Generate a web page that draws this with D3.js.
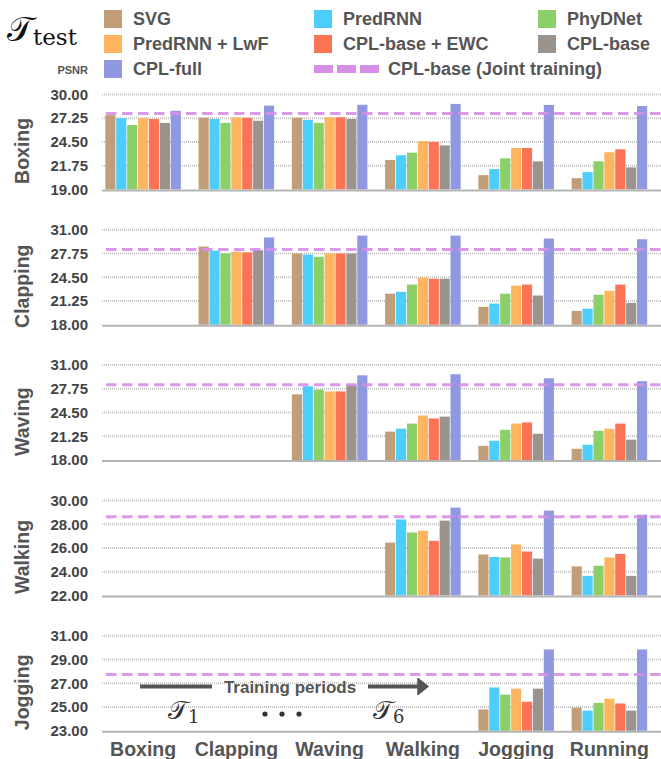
<!DOCTYPE html>
<html>
<head>
<meta charset="utf-8">
<script src="https://cdn.jsdelivr.net/npm/d3@7"></script>
<style>
  body { margin: 0; background: #fff; }
  svg text { font-family: "Liberation Sans", Arial, sans-serif; font-weight: bold; }
</style>
</head>
<body>
<div id="chart"></div>
<script>
// training periods (x groups) and methods (bars)
const periods = ["Boxing", "Clapping", "Waving", "Walking", "Jogging", "Running"];
const methods = ["SVG", "PredRNN", "PhyDNet", "PredRNN + LwF", "CPL-base + EWC", "CPL-base", "CPL-full"];
const colors = ["#c29e78", "#4dcdfc", "#8bcf68", "#fdb55f", "#fd7355", "#9b948e", "#8f98e0"];
const jointColor = "#d88fe8";

// test sets (one panel each)
const testSets = ["Boxing", "Clapping", "Waving", "Walking", "Jogging"];
const yTicks = [
  [19.00, 21.75, 24.50, 27.25, 30.00],
  [18.00, 21.25, 24.50, 27.75, 31.00],
  [18.00, 21.25, 24.50, 27.75, 31.00],
  [22.00, 24.00, 26.00, 28.00, 30.00],
  [23.00, 25.00, 27.00, 29.00, 31.00]
];

// PSNR per method (rows) and training period (cols); null = not yet trained on it
const boxingPSNR = [
  [27.60, 27.30, 27.30, 22.40, 20.65, 20.30],
  [27.25, 27.15, 27.05, 22.95, 21.35, 21.00],
  [26.45, 26.70, 26.70, 23.25, 22.60, 22.25],
  [27.25, 27.35, 27.35, 24.60, 23.80, 23.30],
  [27.15, 27.30, 27.35, 24.50, 23.80, 23.65],
  [26.70, 26.95, 27.15, 24.10, 22.25, 21.55],
  [28.10, 28.70, 28.80, 28.90, 28.78, 28.65]
];
const clappingPSNR = [
  [null, 28.70, 27.75, 22.25, 20.45, 19.90],
  [null, 28.15, 27.60, 22.50, 20.90, 20.20],
  [null, 27.75, 27.30, 23.50, 22.25, 22.10],
  [null, 28.00, 27.75, 24.45, 23.35, 22.65],
  [null, 27.90, 27.75, 24.30, 23.50, 23.50],
  [null, 28.20, 27.75, 24.30, 22.00, 21.00],
  [null, 29.95, 30.20, 30.20, 29.80, 29.70]
];
const wavingPSNR = [
  [null, null, 27.00, 21.90, 19.95, 19.55],
  [null, null, 28.10, 22.30, 20.65, 20.10],
  [null, null, 27.65, 23.00, 22.15, 22.00],
  [null, null, 27.40, 24.10, 23.00, 22.30],
  [null, null, 27.40, 23.70, 23.15, 23.00],
  [null, null, 28.35, 23.95, 21.60, 20.80],
  [null, null, 29.60, 29.75, 29.20, 28.80]
];
const walkingPSNR = [
  [null, null, null, 26.45, 25.45, 24.45],
  [null, null, null, 28.40, 25.25, 23.65],
  [null, null, null, 27.30, 25.20, 24.50],
  [null, null, null, 27.45, 26.30, 25.20],
  [null, null, null, 26.60, 25.70, 25.50],
  [null, null, null, 28.30, 25.10, 23.65],
  [null, null, null, 29.40, 29.15, 28.80]
];
const joggingPSNR = [
  [null, null, null, null, 24.80, 24.95],
  [null, null, null, null, 26.65, 24.70],
  [null, null, null, null, 26.05, 25.35],
  [null, null, null, null, 26.55, 25.70],
  [null, null, null, null, 25.45, 25.30],
  [null, null, null, null, 26.55, 24.70],
  [null, null, null, null, 29.85, 29.85]
];
const panelData = [boxingPSNR, clappingPSNR, wavingPSNR, walkingPSNR, joggingPSNR];
// CPL-base joint training reference
const jointPSNR = [27.78, 28.30, 28.30, 28.63, 27.75];

const W = 661, H = 759;
const gridLeft = 102, gridRight = 661;
const panelTop0 = 94.4, panelStep = 135.35, panelH = 95;

const svg = d3.select("#chart").append("svg")
  .attr("width", W).attr("height", H);

const x0 = d3.scaleBand()
  .domain(periods)
  .range([96, 656.5])
  .paddingInner(0.19)
  .paddingOuter(0.1);

const x1 = d3.scaleBand()
  .domain(methods)
  .range([0, x0.bandwidth()])
  .paddingInner(0.07);

// ---- legend ----
const legend = svg.append("g");
const legendCols = [104, 314, 538];
const legendRows = [19, 44, 69];
const legendItems = [
  { name: "SVG", c: 0, r: 0 }, { name: "PredRNN", c: 1, r: 0 }, { name: "PhyDNet", c: 2, r: 0 },
  { name: "PredRNN + LwF", c: 0, r: 1 }, { name: "CPL-base + EWC", c: 1, r: 1 }, { name: "CPL-base", c: 2, r: 1 },
  { name: "CPL-full", c: 0, r: 2 }
];
legendItems.forEach(d => {
  const i = methods.indexOf(d.name);
  legend.append("rect")
    .attr("x", legendCols[d.c]).attr("y", legendRows[d.r] - 9)
    .attr("width", 18).attr("height", 18)
    .attr("fill", colors[i]);
  legend.append("text")
    .attr("x", legendCols[d.c] + 29).attr("y", legendRows[d.r])
    .attr("dy", "0.36em")
    .attr("font-size", 18).attr("fill", "#555")
    .text(d.name);
});
legend.append("line")
  .attr("x1", 314).attr("x2", 380)
  .attr("y1", legendRows[2]).attr("y2", legendRows[2])
  .attr("stroke", jointColor).attr("stroke-width", 8)
  .attr("stroke-dasharray", "19,4");
legend.append("text")
  .attr("x", 388).attr("y", legendRows[2]).attr("dy", "0.36em")
  .attr("font-size", 18).attr("fill", "#555")
  .text("CPL-base (Joint training)");

// T_test
const tt = svg.append("text").attr("x", 7).attr("y", 41)
  .style("font-family", "'DejaVu Serif', serif").style("font-weight", "normal")
  .attr("fill", "#111");
tt.append("tspan").attr("font-size", 34).text("𝒯");
tt.append("tspan").attr("font-size", 23).attr("dy", 4).text("test");

svg.append("text").attr("x", 88).attr("y", 70).attr("dy", "0.36em")
  .attr("text-anchor", "end").attr("font-size", 11).attr("fill", "#555")
  .text("PSNR");

// ---- panels ----
testSets.forEach((name, p) => {
  const top = panelTop0 + p * panelStep;
  const ticks = yTicks[p];
  const y = d3.scaleLinear()
    .domain([ticks[0], ticks[ticks.length - 1]])
    .range([top + panelH, top]);

  const g = svg.append("g");

  // dotted gridlines
  g.selectAll(".grid").data(ticks.slice(1)).enter().append("line")
    .attr("x1", gridLeft).attr("x2", gridRight)
    .attr("y1", d => y(d)).attr("y2", d => y(d))
    .attr("stroke", "#c4c4c4").attr("stroke-width", 2)
    .attr("stroke-dasharray", "1,1");

  // tick labels
  const axis = g.append("g")
    .attr("transform", `translate(88,0)`)
    .call(d3.axisLeft(y).tickValues(ticks).tickFormat(d3.format(".2f")).tickSize(0).tickPadding(0));
  axis.select(".domain").remove();
  axis.selectAll("text")
    .attr("font-size", 15).attr("fill", "#444")
    .style("font-family", "'Liberation Sans', Arial, sans-serif")
    .style("font-weight", "bold");

  // panel label
  g.append("text")
    .attr("transform", `translate(29,${top + panelH / 2 + 9}) rotate(-90)`)
    .attr("text-anchor", "middle")
    .attr("font-size", 19.5).attr("fill", "#555")
    .text(name);

  // bars
  const rows = panelData[p];
  const groups = g.selectAll(".grp").data(periods).enter().append("g")
    .attr("transform", d => `translate(${x0(d)},0)`);
  groups.selectAll("rect")
    .data((per, j) => methods.map((m, i) => ({ m, i, v: rows[i][j] })).filter(d => d.v !== null))
    .enter().append("rect")
    .attr("x", d => x1(d.m))
    .attr("width", x1.bandwidth())
    .attr("y", d => y(d.v))
    .attr("height", d => y(ticks[0]) - y(d.v))
    .attr("fill", d => colors[d.i]);

  // bottom axis line
  g.append("line")
    .attr("x1", gridLeft).attr("x2", gridRight)
    .attr("y1", y(ticks[0]) + 1).attr("y2", y(ticks[0]) + 1)
    .attr("stroke", "#b4b4b4").attr("stroke-width", 2);

  // joint training reference
  g.append("line")
    .attr("x1", 106).attr("x2", gridRight)
    .attr("y1", y(jointPSNR[p])).attr("y2", y(jointPSNR[p]))
    .attr("stroke", jointColor).attr("stroke-width", 3)
    .attr("stroke-dasharray", "10.5,5.5")
    .attr("opacity", 0.9);

  if (p === testSets.length - 1) {
    // training periods annotation
    const ay = 686.5;
    g.append("line").attr("x1", 140).attr("x2", 212).attr("y1", ay).attr("y2", ay)
      .attr("stroke", "#555").attr("stroke-width", 4);
    g.append("text").attr("x", 290).attr("y", ay).attr("dy", "0.36em")
      .attr("text-anchor", "middle").attr("font-size", 17).attr("fill", "#555")
      .text("Training periods");
    g.append("line").attr("x1", 368).attr("x2", 422).attr("y1", ay).attr("y2", ay)
      .attr("stroke", "#555").attr("stroke-width", 4);
    g.append("path")
      .attr("d", `M418,${ay - 8}L428,${ay}L418,${ay + 8}Z`)
      .attr("fill", "#555").attr("stroke", "#555").attr("stroke-width", 1.5)
      .attr("stroke-linejoin", "round");

    [[168, "1"], [373, "6"]].forEach(([tx, sub]) => {
      const t = g.append("text").attr("x", tx).attr("y", 719)
        .style("font-family", "'DejaVu Serif', serif").style("font-weight", "normal")
        .attr("fill", "#333");
      t.append("tspan").attr("font-size", 26).text("𝒯");
      t.append("tspan").attr("font-size", 18).attr("dy", 4).text(sub);
    });
    g.selectAll(".dot").data([0, 1, 2]).enter().append("circle")
      .attr("cx", d => 265 + d * 17).attr("cy", 714).attr("r", 2.6)
      .attr("fill", "#333");
  }
});

// category labels along the bottom
svg.append("g").selectAll("text").data(periods).enter().append("text")
  .attr("x", d => x0(d) + x0.bandwidth() / 2)
  .attr("y", 756)
  .attr("text-anchor", "middle")
  .attr("font-size", 19.5).attr("fill", "#555")
  .text(d => d);
</script>
</body>
</html>
